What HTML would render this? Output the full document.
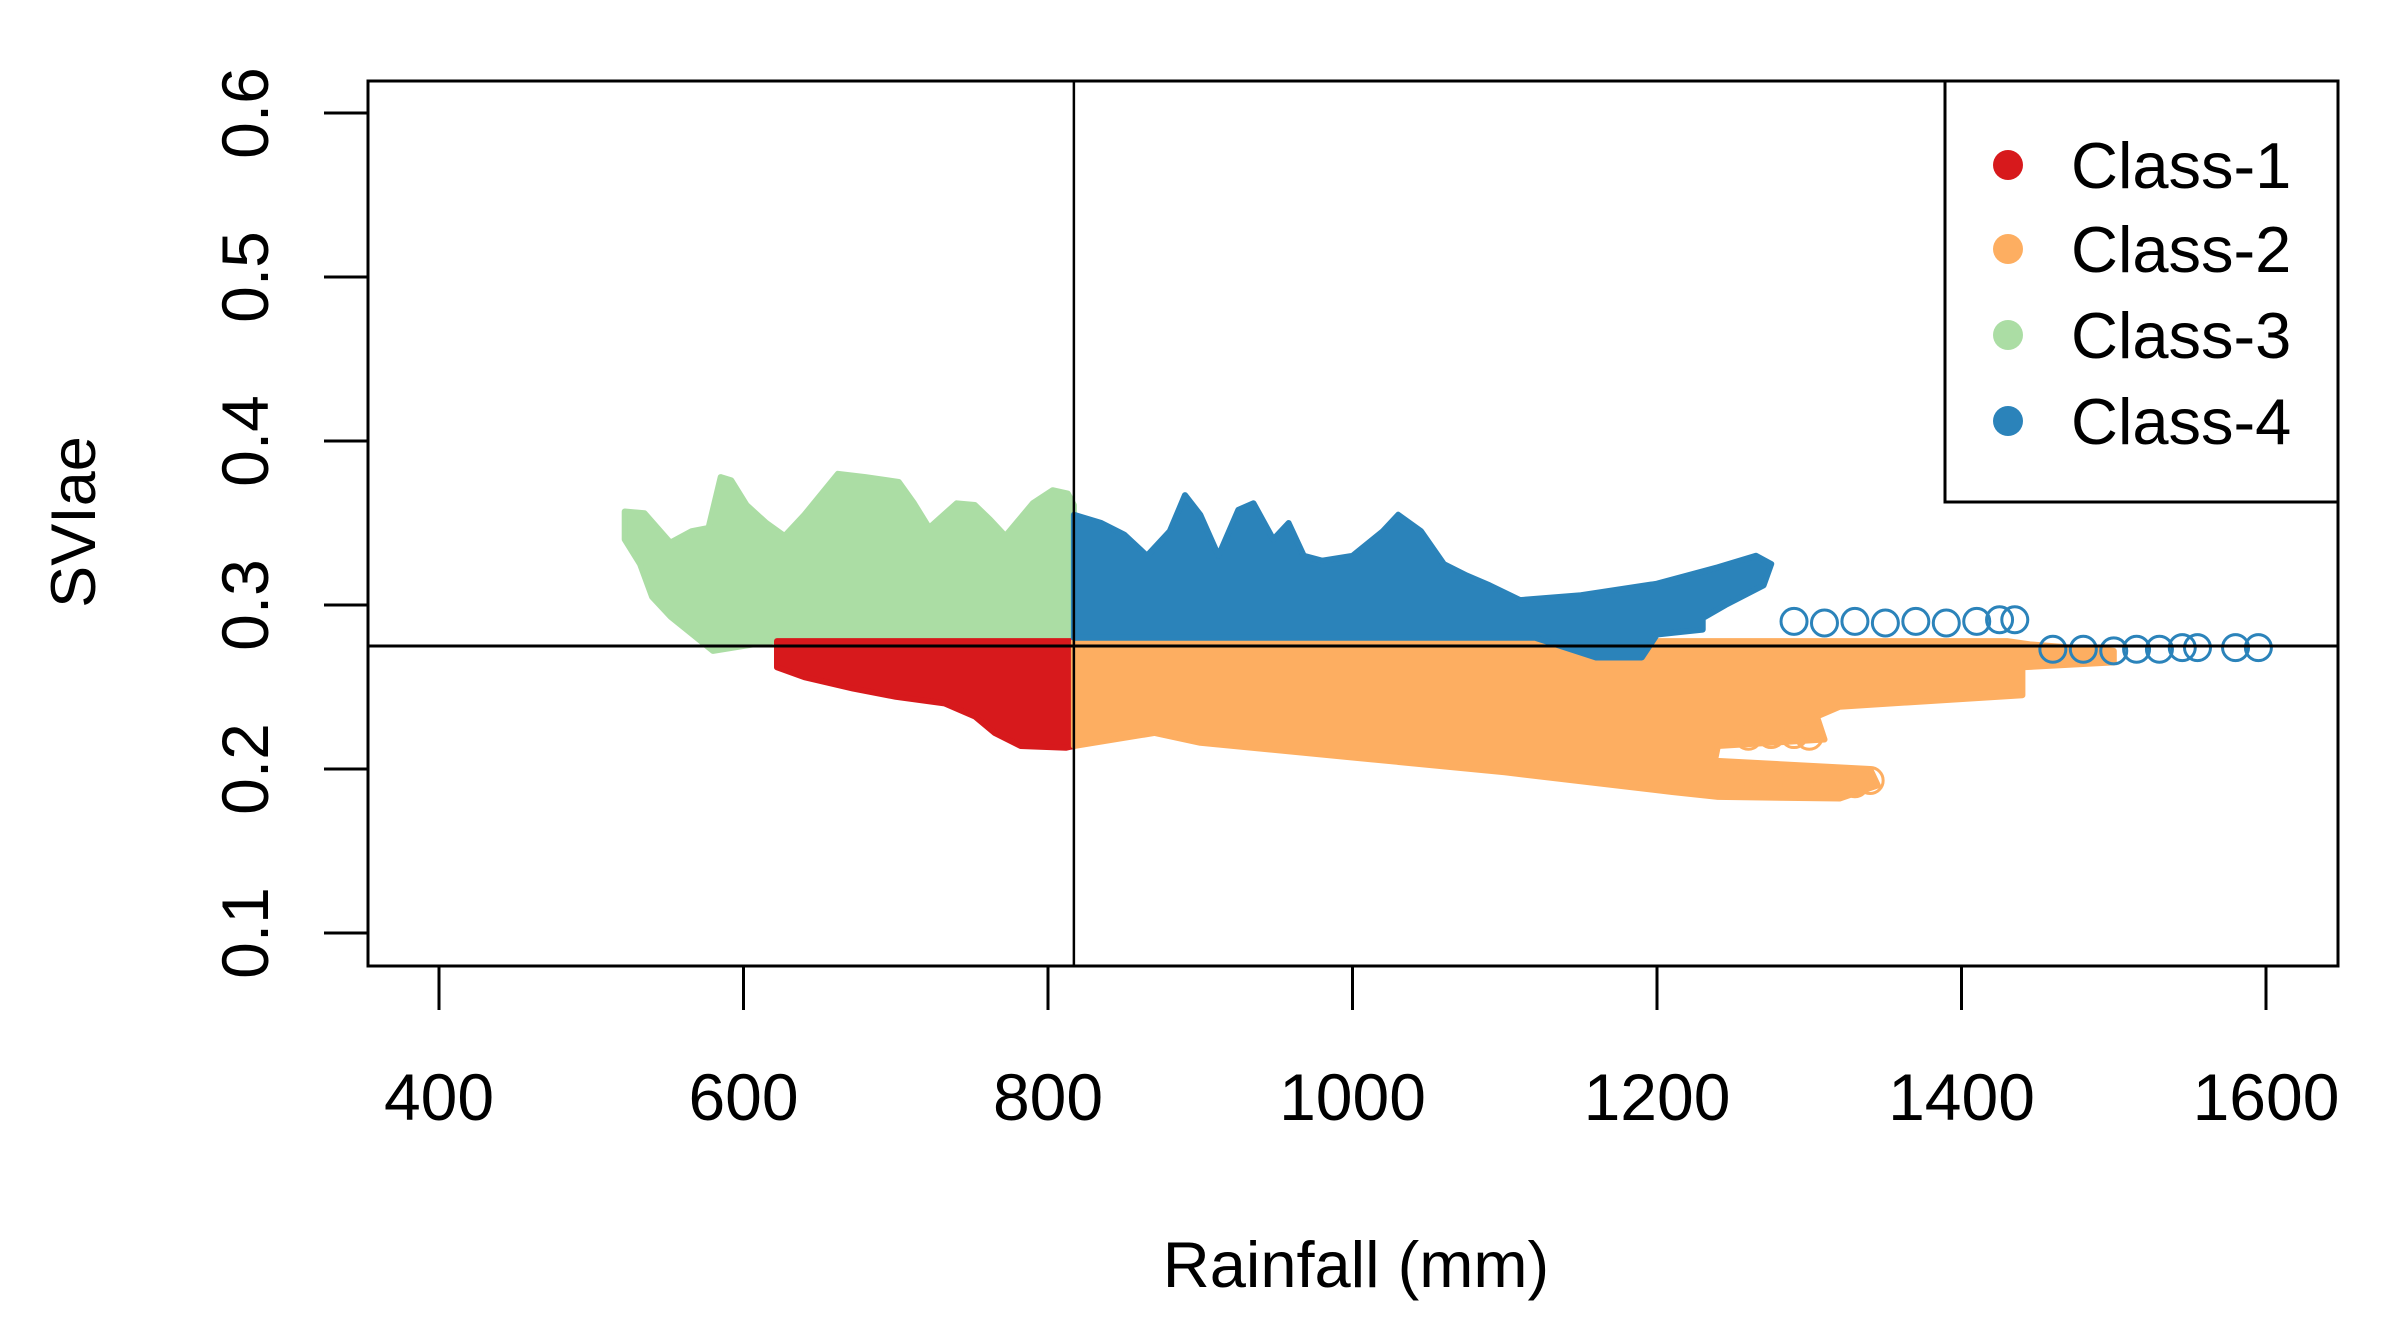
<!DOCTYPE html>
<html><head><meta charset="utf-8"><style>
html,body{margin:0;padding:0;background:#fff;}
svg{display:block;font-family:"Liberation Sans",Arial,sans-serif;}
</style></head><body>
<svg id="chart" width="2390" height="1339" viewBox="0 0 2390 1339">
<g id="marks"></g>
<rect x="368" y="81" width="1970" height="885" fill="none" stroke="#000" stroke-width="3"/>
<g id="axes"></g>
<text x="1356" y="1287" font-size="65" text-anchor="middle">Rainfall (mm)</text>
<text transform="translate(95,522) rotate(-90)" font-size="63" text-anchor="middle">SVIae</text>
<g>
<rect x="1945" y="81" width="393" height="421" fill="#fff" stroke="#000" stroke-width="3"/>
<circle cx="2008" cy="165" r="15" fill="#d7191c"/>
<text x="2071" y="188" font-size="65">Class-1</text>
<circle cx="2008" cy="249" r="15" fill="#fdae61"/>
<text x="2071" y="272" font-size="65">Class-2</text>
<circle cx="2008" cy="335" r="15" fill="#abdda4"/>
<text x="2071" y="358" font-size="65">Class-3</text>
<circle cx="2008" cy="421" r="15" fill="#2b83ba"/>
<text x="2071" y="444" font-size="65">Class-4</text>
</g>
</svg>
<script>
const xTicks = [400, 600, 800, 1000, 1200, 1400, 1600];
const yTicks = [0.1, 0.2, 0.3, 0.4, 0.5, 0.6];
const rainThreshold = 817;
const sviThreshold = 0.275;
const class3Rain = [522,535,552,566,577,585,592,602,615,627,640,662,680,702,712,722,740,752,762,772,790,803,813,817,817,620,580,552,540,532,522];
const class3Svi  = [0.357,0.356,0.338,0.345,0.347,0.378,0.376,0.361,0.350,0.342,0.355,0.380,0.378,0.375,0.362,0.347,0.362,0.361,0.352,0.342,0.362,0.370,0.368,0.361,0.278,0.278,0.272,0.293,0.305,0.325,0.340];
const class1Rain = [622,817,817,812,782,765,752,732,700,672,640,622];
const class1Svi  = [0.278,0.278,0.214,0.213,0.214,0.222,0.232,0.240,0.244,0.249,0.256,0.262];
const class2Rain = [817,1430,1445,1500,1500,1440,1440,1320,1305,1310,1240,1238,1340,1345,1320,1240,1210,1100,1000,900,870,830,817];
const class2Svi  = [0.278,0.278,0.276,0.272,0.265,0.262,0.245,0.238,0.232,0.218,0.214,0.205,0.200,0.190,0.182,0.183,0.186,0.198,0.207,0.216,0.222,0.216,0.214];
const class4Rain = [817,835,850,865,880,890,900,912,925,935,948,958,968,980,1000,1020,1030,1045,1060,1075,1090,1110,1150,1200,1240,1265,1275,1270,1245,1230,1230,1200,1190,1160,1120,817];
const class4Svi  = [0.355,0.350,0.343,0.330,0.345,0.367,0.355,0.330,0.358,0.362,0.340,0.350,0.330,0.327,0.330,0.345,0.355,0.345,0.325,0.318,0.312,0.303,0.306,0.313,0.323,0.330,0.325,0.312,0.300,0.292,0.285,0.282,0.268,0.268,0.280,0.280];
const tail4Rain = [1290,1310,1330,1350,1370,1390,1410,1425,1435,1460,1480,1500,1515,1530,1545,1555,1580,1595];
const tail4Svi  = [0.290,0.289,0.290,0.289,0.290,0.289,0.290,0.291,0.291,0.273,0.273,0.272,0.273,0.273,0.274,0.274,0.274,0.274];
const tail2Rain = [1260,1275,1290,1300,1250,1270,1290,1310,1330,1340];
const tail2Svi  = [0.220,0.221,0.221,0.220,0.190,0.190,0.190,0.191,0.191,0.193];

const NS = "http://www.w3.org/2000/svg";
function X(r){ return 439 + (r - 400) * (1827 / 1200); }
function Y(v){ return 933 - (v - 0.1) * 1640; }
const marks = document.getElementById('marks');
const axes = document.getElementById('axes');

function poly(rs, vs, color, name){
  const p = document.createElementNS(NS, 'polygon');
  p.setAttribute('points', rs.map((r,i)=>X(r).toFixed(1)+','+Y(vs[i]).toFixed(1)).join(' '));
  p.setAttribute('fill', color);
  p.setAttribute('stroke', color);
  p.setAttribute('stroke-width', '6');
  p.setAttribute('stroke-linejoin', 'round');
  
  
  marks.appendChild(p);
}
function circles(rs, vs, color, name){
  rs.forEach((r,i)=>{
    const c = document.createElementNS(NS, 'circle');
    c.setAttribute('cx', X(r)); c.setAttribute('cy', Y(vs[i])); c.setAttribute('r', 13);
    c.setAttribute('fill', 'none'); c.setAttribute('stroke', color); c.setAttribute('stroke-width', '3');
    
    
    marks.appendChild(c);
  });
}
poly(class3Rain, class3Svi, '#abdda4', 'class-3-cloud');
poly(class1Rain, class1Svi, '#d7191c', 'class-1-cloud');
poly(class2Rain, class2Svi, '#fdae61', 'class-2-cloud');
poly(class4Rain, class4Svi, '#2b83ba', 'class-4-cloud');
circles(tail2Rain, tail2Svi, '#fdae61', 'class-2-point');
circles(tail4Rain, tail4Svi, '#2b83ba', 'class-4-point');

function line(x1,y1,x2,y2,w,name){
  const l = document.createElementNS(NS, 'line');
  l.setAttribute('x1',x1); l.setAttribute('y1',y1); l.setAttribute('x2',x2); l.setAttribute('y2',y2);
  l.setAttribute('stroke','#000'); l.setAttribute('stroke-width',w);
  
  
  return l;
}
marks.appendChild(line(X(rainThreshold),81,X(rainThreshold),966,2.5,'rainfall-threshold-line'));
marks.appendChild(line(368,Y(sviThreshold),2338,Y(sviThreshold),3,'svi-threshold-line'));

xTicks.forEach(t=>{
  axes.appendChild(line(X(t),966,X(t),1010,3,'x-tick'));
  const tx = document.createElementNS(NS,'text');
  tx.setAttribute('x', X(t)); tx.setAttribute('y', 1120);
  tx.setAttribute('font-size', '66'); tx.setAttribute('text-anchor', 'middle');
  tx.textContent = t;
  
  
  axes.appendChild(tx);
});
yTicks.forEach(t=>{
  axes.appendChild(line(324,Y(t),368,Y(t),3,'y-tick'));
  const tx = document.createElementNS(NS,'text');
  tx.setAttribute('transform', 'translate(268,'+Y(t)+') rotate(-90)');
  tx.setAttribute('font-size', '66'); tx.setAttribute('text-anchor', 'middle');
  tx.textContent = t.toFixed(1);
  
  
  axes.appendChild(tx);
});
</script>
</body></html>
